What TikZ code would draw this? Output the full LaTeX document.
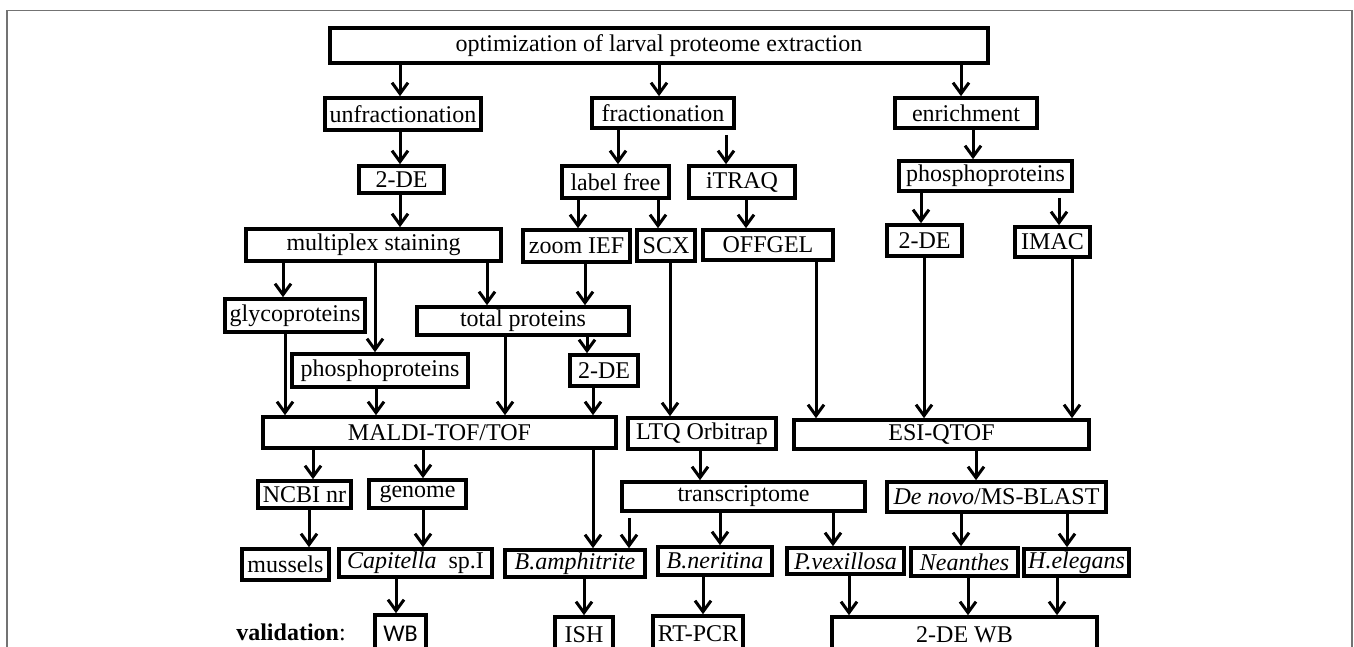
\documentclass[tikz,border=0pt]{standalone}
\usepackage{fontspec}
\setmainfont{Liberation Serif}
\newfontfamily\wbfont{Carlito}
\usepackage{tikz}
\usetikzlibrary{arrows.meta}
\tikzset{
  boxnode/.style={rectangle,draw=black,line width=1.8pt,inner sep=0pt,
    font=\fontsize{12}{14}\selectfont},
  flowedge/.style={line width=1.5pt,-{Straight Barb[length=5.5pt,width=8pt]}},
  gapedge/.style={flowedge,shorten <=2.5pt},
  framebox/.style={line width=0.6pt,black!55}
}

\begin{document}
\begin{tikzpicture}[x=0.5pt,y=-0.5pt]
  \newcommand{\flowbox}[6]{%
    \node[boxnode,minimum width={(#4-#2)*0.5pt},minimum height={(#5-#3)*0.5pt}]
      (#1) at ({(#2+#4)/2},{(#3+#5)/2}) {#6};}
  \newcommand{\flowarrow}[3]{%
    \draw[flowedge] (#1.south -| #3,0) -- (#2.north -| #3,0);}

  \useasboundingbox (0,0) rectangle (1354,647);
  \draw[framebox] (7,690) |- (1352,10.5) -- (1352,690);

  % extraction
  \flowbox{top}{330}{28}{988}{63}{optimization of larval proteome extraction}
  \flowbox{unfrac}{325}{98}{481}{130}{unfractionation}
  \flowbox{frac}{592}{98}{734}{128}{fractionation}
  \flowbox{enrich}{895}{98}{1037}{128}{enrichment}

  % separation
  \flowbox{gelA}{359}{166}{444}{193}{2-DE}
  \flowbox{labelfree}{562}{166}{669}{198}{label free}
  \flowbox{itraq}{689}{166}{795}{198}{iTRAQ}
  \flowbox{phosR}{899}{161}{1072}{191}{phosphoproteins}
  \flowbox{multiplex}{246}{229}{501}{261}{multiplex staining}
  \flowbox{zoomief}{523}{230}{630}{262}{zoom IEF}
  \flowbox{scx}{637}{230}{695}{261}{SCX}
  \flowbox{offgel}{703}{230}{833}{260}{OFFGEL}
  \flowbox{gelR}{887}{225}{962}{256}{2-DE}
  \flowbox{imac}{1015}{227}{1090}{257}{IMAC}
  \flowbox{glyco}{225}{299}{365}{332}{glycoproteins}
  \flowbox{total}{417}{307}{629}{335}{total proteins}
  \flowbox{phosL}{292}{354}{468}{387}{phosphoproteins}
  \flowbox{gelM}{570}{355}{638}{386}{2-DE}

  % mass spectrometry
  \flowbox{maldi}{263}{417}{616}{448}{MALDI-TOF/TOF}
  \flowbox{ltq}{628}{418}{776}{449}{LTQ Orbitrap}
  \flowbox{esi}{794}{420}{1089}{449}{ESI-QTOF}

  % databases and species
  \flowbox{ncbi}{258}{481}{351}{508}{NCBI nr}
  \flowbox{genome}{369}{480}{466}{508}{genome}
  \flowbox{transcr}{622}{482}{865}{511}{transcriptome}
  \flowbox{denovo}{887}{482}{1106}{512}{\textit{De novo}/MS-BLAST}
  \flowbox{mussels}{242}{549}{329}{580}{mussels}
  \flowbox{capitella}{339}{549}{492}{577}{\textit{Capitella}\ \ sp.I}
  \flowbox{bamph}{505}{550}{645}{577}{\textit{B.amphitrite}}
  \flowbox{bner}{658}{547}{772}{575}{\textit{B.neritina}}
  \flowbox{pvex}{787}{548}{904}{574}{\textit{P.vexillosa}}
  \flowbox{neanthes}{911}{548}{1018}{576}{\textit{Neanthes}}
  \flowbox{helegans}{1024}{549}{1129}{576}{\textit{H.elegans}}

  % validation
  \node[font=\fontsize{12}{14}\selectfont] (valid) at (291,632) {\textbf{validation}:};
  \flowbox{wb}{375}{615}{426}{652}{\wbfont WB}
  \flowbox{ish}{555}{617}{613}{652}{ISH}
  \flowbox{rtpcr}{653}{616}{743}{652}{RT-PCR}
  \flowbox{gelwb}{832}{617}{1097}{652}{2-DE WB}

  \flowarrow{top}{unfrac}{400}
  \flowarrow{top}{frac}{659}
  \flowarrow{top}{enrich}{961}
  \flowarrow{unfrac}{gelA}{400}
  \flowarrow{frac}{labelfree}{618}
  \draw[gapedge] (frac.south -| 726,0) -- (itraq.north -| 726,0);
  \flowarrow{enrich}{phosR}{973}
  \flowarrow{gelA}{multiplex}{400}
  \flowarrow{labelfree}{zoomief}{578}
  \flowarrow{labelfree}{scx}{658}
  \flowarrow{itraq}{offgel}{746}
  \flowarrow{phosR}{gelR}{921}
  \draw[gapedge] (phosR.south -| 1059,0) -- (imac.north -| 1059,0);
  \flowarrow{multiplex}{glyco}{283}
  \flowarrow{multiplex}{phosL}{375}
  \flowarrow{multiplex}{total}{487}
  \flowarrow{zoomief}{total}{585}
  \flowarrow{gelR}{esi}{924}
  \flowarrow{imac}{esi}{1072}
  \flowarrow{offgel}{esi}{816}
  \flowarrow{total}{maldi}{505}
  \flowarrow{total}{gelM}{587}
  \flowarrow{glyco}{maldi}{285}
  \flowarrow{phosL}{maldi}{376}
  \flowarrow{gelM}{maldi}{593}
  \flowarrow{scx}{ltq}{670}
  \flowarrow{maldi}{ncbi}{313}
  \flowarrow{maldi}{genome}{423}
  \flowarrow{maldi}{bamph}{593}
  \flowarrow{ncbi}{mussels}{309}
  \flowarrow{genome}{capitella}{423}
  \flowarrow{capitella}{wb}{396}
  \flowarrow{bamph}{ish}{584}
  \flowarrow{ltq}{transcr}{700}
  \draw[gapedge] (transcr.south -| 629,0) -- (bamph.north -| 629,0);
  \flowarrow{transcr}{bner}{720}
  \flowarrow{transcr}{pvex}{833}
  \flowarrow{bner}{rtpcr}{703}
  \flowarrow{pvex}{gelwb}{849}
  \flowarrow{esi}{denovo}{976}
  \flowarrow{denovo}{neanthes}{961}
  \flowarrow{denovo}{helegans}{1067}
  \flowarrow{neanthes}{gelwb}{968}
  \flowarrow{helegans}{gelwb}{1057}
\end{tikzpicture}
\end{document}
